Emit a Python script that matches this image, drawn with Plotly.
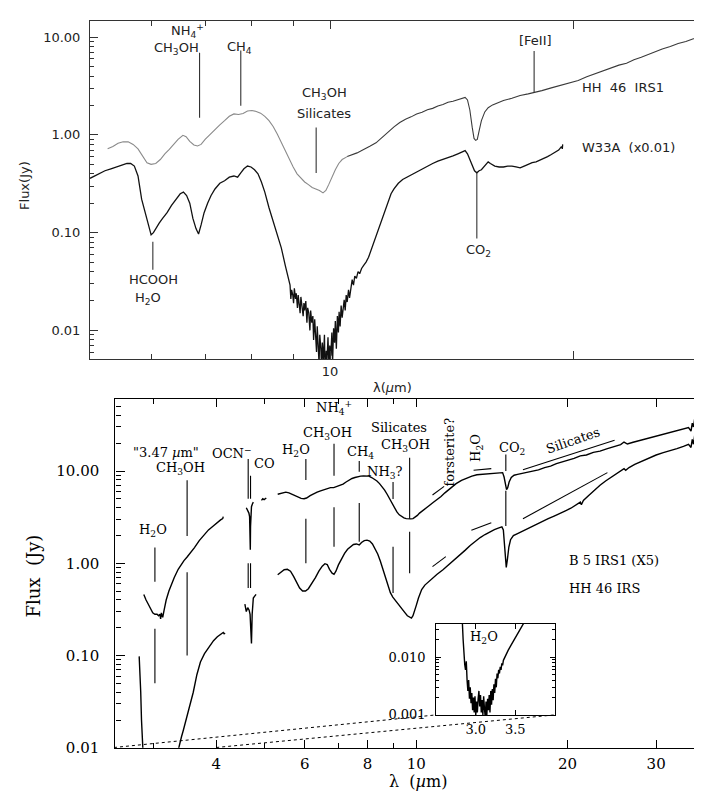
import numpy as np
import plotly.graph_objects as go

W, H = 702, 793


def px(x):
    return x / W


def py(y):
    return 1 - y / H


# ---------------- TOP PANEL DATA ----------------
hh46_top_wl_a = [5.30, 5.38, 5.46, 5.54, 5.62, 5.70, 5.78, 5.86, 5.93, 6.00, 6.08, 6.16, 6.24, 6.32, 6.40,
                 6.48, 6.57, 6.63, 6.70, 6.78, 6.85, 6.92, 7.00, 7.10, 7.20, 7.30, 7.40, 7.50, 7.60, 7.70,
                 7.80, 7.90, 8.00, 8.10, 8.20, 8.30, 8.40, 8.50, 8.60, 8.70, 8.80, 8.90, 9.00, 9.10, 9.20,
                 9.30, 9.40, 9.50, 9.60, 9.70, 9.80, 9.88, 9.96, 10.05, 10.15, 10.25, 10.35, 10.50]
hh46_top_flux_a = [0.72, 0.76, 0.82, 0.85, 0.85, 0.80, 0.72, 0.60, 0.52, 0.50, 0.51, 0.56, 0.64, 0.71, 0.80,
                   0.90, 0.99, 0.96, 0.86, 0.79, 0.77, 0.80, 0.90, 1.02, 1.14, 1.27, 1.40, 1.55, 1.64, 1.62,
                   1.66, 1.76, 1.78, 1.74, 1.67, 1.55, 1.40, 1.22, 1.02, 0.83, 0.68, 0.56, 0.47, 0.40, 0.36,
                   0.33, 0.31, 0.29, 0.28, 0.27, 0.255, 0.27, 0.31, 0.37, 0.44, 0.51, 0.56, 0.60]
hh46_top_wl_b = [10.50, 10.60, 10.70, 10.80, 10.90, 11.00, 11.20, 11.40, 11.60, 11.80, 12.00, 12.20, 12.40,
                 12.60, 12.80, 13.00, 13.20, 13.40, 13.60, 13.80, 14.00, 14.20, 14.40, 14.60, 14.70, 14.80,
                 14.90, 15.00, 15.08, 15.15, 15.22, 15.30, 15.40, 15.55, 15.70, 15.90, 16.10, 16.40, 16.80,
                 17.20, 17.60, 17.90, 18.30, 18.80, 19.30, 19.80, 20.30, 20.80, 21.30, 21.80, 22.30, 22.80,
                 23.30, 23.80, 24.30, 24.80, 25.30, 25.80, 26.40, 27.00, 27.60, 28.20, 28.80, 29.40, 29.70]
hh46_top_flux_b = [0.60, 0.615, 0.63, 0.655, 0.68, 0.705, 0.765, 0.83, 0.95, 1.07, 1.21, 1.34, 1.45,
                   1.53, 1.64, 1.71, 1.81, 1.87, 1.98, 2.05, 2.16, 2.21, 2.31, 2.37, 2.42, 2.28,
                   1.80, 1.20, 0.92, 0.88, 0.90, 1.10, 1.40, 1.72, 1.90, 2.03, 2.11, 2.25, 2.37,
                   2.53, 2.63, 2.74, 2.84, 3.03, 3.20, 3.42, 3.60, 3.93, 4.22, 4.57, 4.83, 5.18,
                   5.42, 5.88, 6.22, 6.68, 7.08, 7.58, 8.02, 8.63, 9.05, 9.65, 10.05, 10.65, 10.9]

# W33A (x0.01): smooth short-wavelength part, noisy silicate trough, long-wavelength part
w33a_wl_1 = [5.04, 5.10, 5.18, 5.26, 5.35, 5.44, 5.52, 5.60, 5.66, 5.72, 5.78, 5.84, 5.90, 5.95, 6.00,
             6.04, 6.08, 6.14, 6.20, 6.28, 6.36, 6.44, 6.52, 6.58, 6.64, 6.70, 6.76, 6.82, 6.87, 6.92,
             6.98, 7.05, 7.12, 7.20, 7.30, 7.40, 7.50, 7.60, 7.68, 7.75, 7.82, 7.90, 7.98, 8.06, 8.14,
             8.22, 8.30, 8.40, 8.50, 8.60, 8.70, 8.80, 8.88]
w33a_flux_1 = [0.36, 0.38, 0.40, 0.43, 0.45, 0.47, 0.49, 0.51, 0.51, 0.48, 0.38, 0.22, 0.16, 0.12, 0.095,
               0.10, 0.11, 0.125, 0.14, 0.16, 0.19, 0.22, 0.25, 0.26, 0.24, 0.20, 0.14, 0.11, 0.097, 0.12,
               0.16, 0.20, 0.24, 0.28, 0.32, 0.34, 0.37, 0.38, 0.37, 0.41, 0.45, 0.48, 0.47, 0.44, 0.40,
               0.33, 0.26, 0.18, 0.13, 0.10, 0.07, 0.046, 0.033]
w33a_wl_2 = [8.92, 8.94, 8.96, 8.99, 9.01, 9.03, 9.06, 9.08, 9.11, 9.13, 9.15, 9.18, 9.20, 9.23, 9.26,
             9.28, 9.30, 9.33, 9.36, 9.38, 9.41, 9.44, 9.46, 9.49, 9.52, 9.54, 9.57, 9.59, 9.62, 9.64,
             9.66, 9.69, 9.71, 9.74, 9.76, 9.78, 9.81, 9.84, 9.86, 9.89, 9.91, 9.94, 9.97, 9.99, 10.02,
             10.05, 10.07, 10.10, 10.13, 10.15, 10.18, 10.21, 10.24, 10.26, 10.29, 10.32, 10.35, 10.38,
             10.41, 10.44, 10.47, 10.50, 10.54, 10.57, 10.61, 10.65, 10.69, 10.73, 10.78, 10.83, 10.88,
             10.94]
w33a_flux_2 = [0.029, 0.021, 0.026, 0.023, 0.019, 0.027, 0.021, 0.024, 0.017, 0.023, 0.020, 0.015, 0.022,
               0.018, 0.014, 0.019, 0.016, 0.020, 0.012, 0.017, 0.015, 0.010, 0.016, 0.012, 0.014, 0.008,
               0.013, 0.0095, 0.006, 0.011, 0.0085, 0.0045, 0.009, 0.0065, 0.0038, 0.0075, 0.005, 0.009,
               0.0035, 0.0062, 0.0048, 0.0085, 0.0040, 0.0070, 0.0055, 0.0095, 0.0045, 0.0105, 0.0075,
               0.0125, 0.0065, 0.0140, 0.0095, 0.0155, 0.0110, 0.0180, 0.0135, 0.0170, 0.0205, 0.0160,
               0.0230, 0.0195, 0.0260, 0.0215, 0.0290, 0.0330, 0.0290, 0.0360, 0.0340, 0.0400, 0.0380,
               0.0430]
w33a_wl_3 = [11.00, 11.08, 11.16, 11.24, 11.32, 11.40, 11.48, 11.56, 11.64, 11.72, 11.80, 11.90, 12.00,
             12.15, 12.30, 12.45, 12.60, 12.80, 13.00, 13.20, 13.40, 13.60, 13.80, 14.00, 14.20, 14.40,
             14.60, 14.70, 14.80, 14.90, 15.00, 15.10, 15.20, 15.30, 15.40, 15.50, 15.60, 15.70, 15.80,
             15.90, 16.00, 16.20, 16.40, 16.60, 16.80, 17.00, 17.20, 17.40, 17.60, 17.80, 18.00, 18.20,
             18.40, 18.60, 18.80, 19.00, 19.20, 19.35, 19.40, 19.42]
w33a_flux_3 = [0.046, 0.050, 0.056, 0.066, 0.080, 0.092, 0.11, 0.13, 0.155, 0.18, 0.21, 0.25, 0.28,
               0.32, 0.35, 0.37, 0.39, 0.42, 0.45, 0.48, 0.51, 0.54, 0.56, 0.58, 0.61, 0.64,
               0.67, 0.69, 0.64, 0.56, 0.48, 0.43, 0.41, 0.43, 0.44, 0.47, 0.51, 0.53, 0.51,
               0.49, 0.48, 0.47, 0.47, 0.48, 0.48, 0.47, 0.46, 0.48, 0.50, 0.52, 0.53, 0.55,
               0.57, 0.60, 0.63, 0.66, 0.70, 0.76, 0.72, 0.80]

# feature markers, top panel: (wavelength, flux_top, flux_bottom)
top_markers = [(6.89, 6.95, 1.5), (7.75, 7.3, 1.99), (9.61, 1.19, 0.409),
               (17.9, 7.24, 2.74), (15.2, 0.409, 0.0874), (6.03, 0.0806, 0.0417)]

# ---------------- BOTTOM PANEL DATA ----------------
# B 5 IRS1 (x5) segments
b5_seg1_wl = [2.87, 2.88, 2.90, 2.93, 2.96, 2.99, 3.02, 3.05, 3.07, 3.09, 3.10, 3.11, 3.12, 3.13, 3.15,
              3.18, 3.22, 3.26, 3.30, 3.36, 3.40, 3.45, 3.50, 3.56, 3.62, 3.70, 3.78, 3.86, 3.94, 4.02,
              4.08, 4.12, 4.13]
b5_seg1_flux = [0.46, 0.43, 0.40, 0.36, 0.32, 0.29, 0.28, 0.28, 0.27, 0.28, 0.25, 0.29, 0.27, 0.26, 0.31,
                0.40, 0.50, 0.60, 0.70, 0.86, 0.96, 1.07, 1.17, 1.31, 1.48, 1.76, 2.02, 2.30, 2.52, 2.78,
                2.95, 3.05, 3.2]
b5_seg2_wl = [4.59, 4.61, 4.63, 4.645, 4.66, 4.67, 4.675, 4.68, 4.69, 4.70, 4.72, 4.74]
b5_seg2_flux = [4.0, 3.85, 3.7, 3.5, 3.2, 2.0, 1.4, 2.5, 3.6, 4.1, 4.4, 4.6]
b5_seg3_wl = [4.92, 4.95, 4.98, 5.01, 5.03]
b5_seg3_flux = [4.8, 5.0, 4.9, 5.05, 5.1]
b5_seg4_wl = [5.30, 5.36, 5.42, 5.50, 5.58, 5.66, 5.74, 5.82, 5.90, 5.98, 6.05, 6.15, 6.25, 6.35, 6.45,
              6.55, 6.65, 6.75, 6.85, 6.95, 7.05, 7.15, 7.25, 7.35, 7.45, 7.55, 7.65, 7.75, 7.85, 7.95,
              8.05, 8.15, 8.25, 8.35, 8.45, 8.55, 8.65, 8.75, 8.85, 8.95, 9.05, 9.15, 9.25, 9.35, 9.45,
              9.55, 9.65, 9.75, 9.85, 9.95, 10.05, 10.15, 10.30, 10.45, 10.60, 10.80, 11.00, 11.20, 11.40,
              11.60, 11.80, 12.00, 12.30, 12.60, 12.90, 13.20, 13.50, 13.80, 14.10, 14.40, 14.70, 14.85,
              14.95, 15.05, 15.12, 15.20, 15.30, 15.45, 15.65, 15.90, 16.20, 16.60, 17.00, 17.50, 18.00,
              18.50, 19.00, 19.50, 20.00, 20.60, 21.20, 21.80, 22.50, 23.20, 24.00, 24.80, 25.50, 25.90,
              26.30, 27.00, 28.00, 29.00, 30.00, 31.00, 32.00, 33.00, 34.00, 34.80, 35.20, 35.40, 35.60,
              35.80, 36.00, 36.10]
b5_seg4_flux = [5.6, 5.7, 5.8, 5.9, 5.8, 5.6, 5.4, 5.2, 5.05, 5.0, 5.1, 5.4, 5.7, 5.9, 6.1,
                6.3, 6.4, 6.6, 6.6, 6.8, 7.0, 7.2, 7.6, 8.0, 8.3, 8.5, 8.7, 8.8, 8.85, 8.9,
                8.8, 8.5, 8.2, 7.8, 7.3, 6.8, 6.2, 5.6, 5.0, 4.5, 4.0, 3.6, 3.35, 3.2, 3.1,
                3.05, 3.02, 3.03, 3.05, 3.15, 3.3, 3.5, 3.75, 3.95, 4.2, 4.55, 4.9, 5.3, 5.8,
                6.3, 6.8, 7.3, 7.9, 8.4, 8.8, 9.1, 9.2, 9.3, 9.4, 9.5, 9.7, 9.6,
                8.6, 7.0, 6.3, 6.6, 7.6, 8.5, 9.0, 9.2, 9.4, 9.7, 10.0, 10.3, 10.9,
                11.3, 12.0, 12.5, 13.2, 13.7, 14.6, 14.9, 15.9, 16.4, 17.5, 18.4, 19.3, 20.6,
                19.6, 20.5, 21.6, 22.4, 23.9, 24.7, 26.1, 27.4, 28.6, 29.5, 27.0, 33.0, 30.0,
                37.0, 31.0, 34.0]

# HH 46 IRS segments
hh46_seg1_wl = [2.81, 2.82, 2.83, 2.84, 2.85, 2.86, 2.87, 2.88, 2.89, 2.90, 2.91, 2.92, 2.93, 2.94, 2.95,
                2.96, 2.97, 2.98, 2.99, 3.00, 3.01, 3.02, 3.03, 3.04, 3.05, 3.06, 3.07, 3.08, 3.09, 3.10,
                3.11, 3.12, 3.13, 3.14, 3.15, 3.16, 3.17, 3.18, 3.19, 3.20, 3.21, 3.22, 3.23, 3.24, 3.25,
                3.26, 3.27, 3.28, 3.29, 3.30, 3.31, 3.32, 3.33, 3.34, 3.35, 3.37, 3.39, 3.41, 3.44, 3.48,
                3.52, 3.56, 3.60, 3.66, 3.72, 3.79, 3.87, 3.95, 4.02, 4.09, 4.13, 4.15, 4.16]
hh46_seg1_flux = [0.098, 0.07, 0.04, 0.02, 0.0095, 0.0075, 0.006, 0.0085, 0.004, 0.0026, 0.004, 0.0019, 0.003,
                  0.0016, 0.0024, 0.0012, 0.002, 0.0011, 0.0021, 0.001, 0.0017, 0.0011, 0.0019, 0.0026,
                  0.0014, 0.0022, 0.0011, 0.0018, 0.001, 0.0021, 0.0013, 0.0009, 0.0017, 0.001, 0.0019,
                  0.0012, 0.0022, 0.0011, 0.0026, 0.0015, 0.0028, 0.0018, 0.0034, 0.0024, 0.0042, 0.003,
                  0.0052, 0.0043, 0.006, 0.0052, 0.0068, 0.006, 0.0078, 0.0072, 0.0088, 0.0102, 0.0115,
                  0.0131, 0.0155, 0.0195, 0.025, 0.031, 0.040, 0.062, 0.085, 0.105, 0.125, 0.145, 0.160,
                  0.172, 0.178, 0.171, 0.176]
hh46_seg2_wl = [4.56, 4.59, 4.62, 4.65, 4.67, 4.685, 4.70, 4.715, 4.74, 4.77, 4.80]
hh46_seg2_flux = [0.36, 0.30, 0.33, 0.31, 0.28, 0.20, 0.135, 0.28, 0.42, 0.44, 0.46]
hh46_seg3_wl = [5.30, 5.38, 5.46, 5.54, 5.62, 5.70, 5.78, 5.86, 5.94, 6.02, 6.10, 6.20, 6.30, 6.40, 6.50,
                6.58, 6.65, 6.72, 6.80, 6.86, 6.92, 7.00, 7.10, 7.20, 7.30, 7.40, 7.50, 7.60, 7.70, 7.78,
                7.88, 7.98, 8.08, 8.18, 8.28, 8.38, 8.48, 8.58, 8.68, 8.78, 8.88, 8.98, 9.10, 9.20, 9.30,
                9.40, 9.50, 9.60, 9.70, 9.78, 9.85, 9.92, 10.00, 10.10, 10.25, 10.40, 10.60, 10.80, 11.00,
                11.30, 11.60, 11.90, 12.20, 12.50, 12.80, 13.10, 13.40, 13.70, 14.00, 14.30, 14.60, 14.80,
                14.90, 14.98, 15.05, 15.10, 15.18, 15.28, 15.40, 15.60, 15.90, 16.30, 16.80, 17.30, 17.80,
                18.30, 18.80, 19.30, 19.80, 20.30, 20.80, 21.20, 21.30, 21.50, 22.00, 22.60, 23.20, 23.80,
                24.40, 25.00, 25.60, 25.90, 26.10, 26.50, 27.20, 28.00, 29.00, 30.00, 31.00, 32.00, 33.00,
                34.00, 34.80, 35.20, 35.40, 35.60, 35.80, 36.00, 36.10]
hh46_seg3_flux = [0.75, 0.80, 0.85, 0.86, 0.82, 0.72, 0.62, 0.54, 0.50, 0.50, 0.53, 0.60, 0.70, 0.82, 0.93,
                  0.99, 0.97, 0.86, 0.78, 0.76, 0.82, 0.96, 1.12, 1.28, 1.42, 1.52, 1.60, 1.62, 1.58, 1.68,
                  1.76, 1.78, 1.74, 1.62, 1.44, 1.26, 1.06, 0.86, 0.68, 0.56, 0.48, 0.43, 0.39, 0.36, 0.33,
                  0.31, 0.29, 0.27, 0.26, 0.255, 0.27, 0.30, 0.35, 0.42, 0.52, 0.58, 0.64, 0.70, 0.76,
                  0.85, 0.96, 1.08, 1.22, 1.38, 1.56, 1.74, 1.90, 2.05, 2.20, 2.32, 2.42, 2.48,
                  2.30, 1.60, 1.00, 0.90, 1.10, 1.50, 1.80, 2.00, 2.10, 2.25, 2.45, 2.65, 2.85,
                  3.05, 3.25, 3.45, 3.70, 3.95, 4.30, 4.60, 4.30, 4.80, 5.40, 6.20, 7.00, 7.80,
                  8.50, 9.20, 10.0, 10.6, 10.2, 10.9, 11.8, 12.7, 13.8, 14.9, 15.8, 16.8, 17.5,
                  18.5, 19.5, 18.0, 22.0, 19.5, 24.5, 20.0, 22.5]

# feature markers, bottom panel: (wavelength, flux_top, flux_bottom)
bottom_markers = [(3.02, 1.48, 0.63), (3.02, 0.195, 0.05),
                  (3.50, 7.96, 1.98), (3.50, 0.80, 0.10),
                  (4.63, 13.5, 5.0), (4.68, 8.9, 5.0), (4.63, 1.0, 0.54), (4.68, 1.0, 0.54),
                  (6.03, 13.5, 8.0), (6.03, 3.04, 1.0),
                  (6.86, 19.8, 8.87), (6.86, 4.05, 1.51),
                  (7.70, 12.8, 9.8), (7.70, 4.5, 1.71),
                  (8.99, 7.6, 4.97), (8.99, 1.51, 0.477),
                  (9.70, 13.9, 3.04), (9.70, 2.19, 0.78),
                  (15.07, 15.1, 10.0), (15.07, 6.1, 2.54)]
# sloped markers: (wl0, flux0, wl1, flux1)
bottom_slants = [(10.77, 5.49, 11.36, 6.81), (10.77, 0.92, 11.45, 1.18),
                 (13.0, 10.2, 14.1, 10.6), (12.87, 2.28, 14.1, 2.75),
                 (16.3, 10.3, 24.8, 21.5), (16.3, 3.04, 24.0, 9.6)]

y_tickvals = [0.01, 0.1, 1, 10]
y_ticktext = ["0.01", "0.10", "1.00", "10.00"]
bottom_x_tickvals = [4, 6, 8, 10, 20, 30]
inset_x_tickvals = [3.0, 3.5]
inset_x_ticktext = ["3.0", "3.5"]
inset_y_tickvals = [0.001, 0.01]
inset_y_ticktext = ["0.001", "0.010"]


def join(*segs):
    xs, ys = [], []
    for i in range(0, len(segs), 2):
        if xs:
            xs.append(None)
            ys.append(None)
        xs += list(segs[i])
        ys += list(segs[i + 1])
    return xs, ys


def vmarks(marks):
    xs, ys = [], []
    for wl, f0, f1 in marks:
        xs += [wl, wl, None]
        ys += [f0, f1, None]
    return xs, ys


def smarks(marks):
    xs, ys = [], []
    for a, b, c, d in marks:
        xs += [a, c, None]
        ys += [b, d, None]
    return xs, ys


fig = go.Figure()

# top panel traces
fig.add_trace(go.Scatter(x=hh46_top_wl_a, y=hh46_top_flux_a, mode="lines",
                         line=dict(color="#8a8a8a", width=1.1), xaxis="x", yaxis="y", showlegend=False))
fig.add_trace(go.Scatter(x=hh46_top_wl_b, y=hh46_top_flux_b, mode="lines",
                         line=dict(color="#3a3a3a", width=1.1), xaxis="x", yaxis="y", showlegend=False))
wx = w33a_wl_1 + w33a_wl_2 + w33a_wl_3
wy = w33a_flux_1 + w33a_flux_2 + w33a_flux_3
fig.add_trace(go.Scatter(x=wx, y=wy, mode="lines",
                         line=dict(color="#111111", width=1.3), xaxis="x", yaxis="y", showlegend=False))
tx, ty = vmarks(top_markers)
fig.add_trace(go.Scatter(x=tx, y=ty, mode="lines", line=dict(color="#333333", width=1.1),
                         xaxis="x", yaxis="y", showlegend=False))

# bottom panel traces
bx, by = join(b5_seg1_wl, b5_seg1_flux, b5_seg2_wl, b5_seg2_flux, b5_seg3_wl, b5_seg3_flux,
              b5_seg4_wl, b5_seg4_flux)
fig.add_trace(go.Scatter(x=bx, y=by, mode="lines", line=dict(color="black", width=1.4),
                         xaxis="x2", yaxis="y2", showlegend=False, connectgaps=False))
hx, hy = join(hh46_seg1_wl, hh46_seg1_flux, hh46_seg2_wl, hh46_seg2_flux, hh46_seg3_wl, hh46_seg3_flux)
fig.add_trace(go.Scatter(x=hx, y=hy, mode="lines", line=dict(color="black", width=1.4),
                         xaxis="x2", yaxis="y2", showlegend=False, connectgaps=False))
mx, my = vmarks(bottom_markers)
fig.add_trace(go.Scatter(x=mx, y=my, mode="lines", line=dict(color="black", width=1.1),
                         xaxis="x2", yaxis="y2", showlegend=False))
sx, sy = smarks(bottom_slants)
fig.add_trace(go.Scatter(x=sx, y=sy, mode="lines", line=dict(color="black", width=1.1),
                         xaxis="x2", yaxis="y2", showlegend=False))

# inset trace
fig.add_trace(go.Scatter(x=hh46_seg1_wl, y=hh46_seg1_flux, mode="lines",
                         line=dict(color="black", width=1.4), xaxis="x3", yaxis="y3", showlegend=False))

SANS = "DejaVu Sans"
SERIF = "DejaVu Serif"


def log_minor(lo, hi):
    vals = []
    for e in range(lo, hi + 1):
        for m in range(2, 10):
            vals.append(m * 10.0 ** e)
    return vals


bot_font = dict(family=SERIF, size=15, color="black")

axis_common = dict(showgrid=False, zeroline=False, showline=True, mirror="ticks", ticks="inside")

fig.update_layout(
    width=W, height=H,
    margin=dict(l=0, r=0, t=0, b=0),
    paper_bgcolor="white", plot_bgcolor="white",
    xaxis=dict(**axis_common, type="log", range=[np.log10(5.04), np.log10(29.4)],
               domain=[px(82), px(700)], anchor="y", linecolor="#333333", linewidth=1,
               tickvals=[10, 20], ticktext=["10", ""], ticklen=8, tickcolor="#333333",
               tickfont=dict(family=SANS, size=13, color="#222222"), ticklabelstandoff=0,
               minor=dict(tickvals=[6, 7, 8, 9], ticklen=5, ticks="inside", tickcolor="#333333")),
    yaxis=dict(**axis_common, type="log", range=[np.log10(0.0051), np.log10(14.8)],
               domain=[py(355), py(12.7)], anchor="x", linecolor="#333333", linewidth=1,
               tickvals=y_tickvals, ticktext=y_ticktext, ticklen=8, tickcolor="#333333",
               tickfont=dict(family=SANS, size=13, color="#222222"), ticklabelstandoff=6,
               minor=dict(tickvals=log_minor(-3, 1), ticklen=4, ticks="inside", tickcolor="#333333")),
    xaxis2=dict(**axis_common, type="log", range=[np.log10(2.52), np.log10(37.7)],
                domain=[px(107.4), px(698)], anchor="y2", linecolor="black", linewidth=1.3,
                tickvals=bottom_x_tickvals, ticktext=[str(v) for v in bottom_x_tickvals],
                ticklen=8, tickcolor="black", tickfont=bot_font, ticklabelstandoff=2,
                minor=dict(tickvals=[3, 5, 7, 9], ticklen=5, ticks="inside", tickcolor="black")),
    yaxis2=dict(**axis_common, type="log", range=[-2, np.log10(60)],
                domain=[py(748.3), py(395.7)], anchor="x2", linecolor="black", linewidth=1.3,
                tickvals=y_tickvals, ticktext=y_ticktext, ticklen=9, tickcolor="black",
                tickfont=bot_font, ticklabelstandoff=12,
                minor=dict(tickvals=log_minor(-2, 1), ticklen=5, ticks="inside", tickcolor="black")),
    xaxis3=dict(**axis_common, type="linear", range=[2.5, 4.0],
                domain=[px(428.3), px(546.7)], anchor="y3", linecolor="black", linewidth=1.2,
                tickvals=inset_x_tickvals, ticktext=inset_x_ticktext, ticklen=5, tickcolor="black",
                tickfont=dict(family=SERIF, size=13, color="black"), ticklabelstandoff=2),
    yaxis3=dict(**axis_common, type="log", range=[-3, np.log10(0.038)],
                domain=[py(715), py(622.7)], anchor="x3", linecolor="black", linewidth=1.2,
                tickvals=inset_y_tickvals, ticktext=inset_y_ticktext, ticklen=5, tickcolor="black",
                tickfont=dict(family=SERIF, size=13, color="black"), ticklabelstandoff=7,
                minor=dict(tickvals=log_minor(-3, -2), ticklen=3, ticks="inside", tickcolor="black")),
)

# dotted connector lines (main panel -> inset corners)
fig.add_shape(type="line", xref="paper", yref="paper", x0=px(106), y0=py(748), x1=px(428.3), y1=py(715),
              line=dict(color="black", width=1, dash="dot"))
fig.add_shape(type="line", xref="paper", yref="paper", x0=px(208.2), y0=py(748), x1=px(546.7), y1=py(715),
              line=dict(color="black", width=1, dash="dot"))

annotations = []


def note(text, x, y, font, anchor="center", angle=0):
    annotations.append(dict(text=text, x=px(x), y=py(y), xref="paper", yref="paper",
                            showarrow=False, xanchor=anchor, yanchor="middle",
                            font=font, textangle=angle))


tf = dict(family=SANS, size=13, color="#222222")
note("NH<sub>4</sub><sup>+</sup>", 180, 23, tf)
note("CH<sub>3</sub>OH", 168, 41, tf)
note("CH<sub>4</sub>", 231, 40, tf)
note("CH<sub>3</sub>OH", 316, 86, tf)
note("Silicates", 316, 107, tf)
note("[FeII]", 527, 33, tf)
note("HH  46  IRS1", 572, 80, tf, anchor="left")
note("W33A  (x0.01)", 572, 141, tf, anchor="left")
note("CO<sub>2</sub>", 470, 245, tf)
note("HCOOH", 145, 275, tf)
note("H<sub>2</sub>O", 140, 294, tf)
note("λ(<i>µ</i>m)", 384, 384, dict(family=SANS, size=13, color="#222222"))
note("Flux(Jy)", 17, 180, dict(family=SANS, size=13, color="#222222"), angle=-90)

bf = dict(family=SERIF, size=13, color="black")
note('"3.47 <i>µ</i>m"', 157.5, 450, bf)
note("CH<sub>3</sub>OH", 172, 466, bf)
note("H<sub>2</sub>O", 145, 529, bf)
note("OCN<sup>−</sup>", 224, 450, bf)
note("CO", 256, 461, bf)
note("H<sub>2</sub>O", 288, 448, bf)
note("NH<sub>4</sub><sup>+</sup>", 326, 405, bf)
note("CH<sub>3</sub>OH", 319, 430, bf)
note("CH<sub>4</sub>", 352, 450, bf)
note("NH<sub>3</sub>?", 377, 470, bf)
note("Silicates", 390.5, 424.5, bf)
note("CH<sub>3</sub>OH", 397, 443, bf)
note("forsterite?", 441.7, 449, bf, angle=-90)
note("H<sub>2</sub>O", 469, 445, bf, angle=-90)
note("CO<sub>2</sub>", 504, 446, bf)
note("Silicates", 565, 437.5, bf, angle=-19)
note("B 5 IRS1 (X5)", 559, 559, bf, anchor="left")
note("HH 46 IRS", 559, 587, bf, anchor="left")
note("H<sub>2</sub>O", 476, 637, bf)
note("λ  (<i>µ</i>m)", 410, 782, dict(family=SERIF, size=16, color="black"))
note("Flux  (Jy)", 25, 575, dict(family=SERIF, size=18, color="black"), angle=-90)

fig.update_layout(annotations=annotations)

fig.write_html("out.html")
